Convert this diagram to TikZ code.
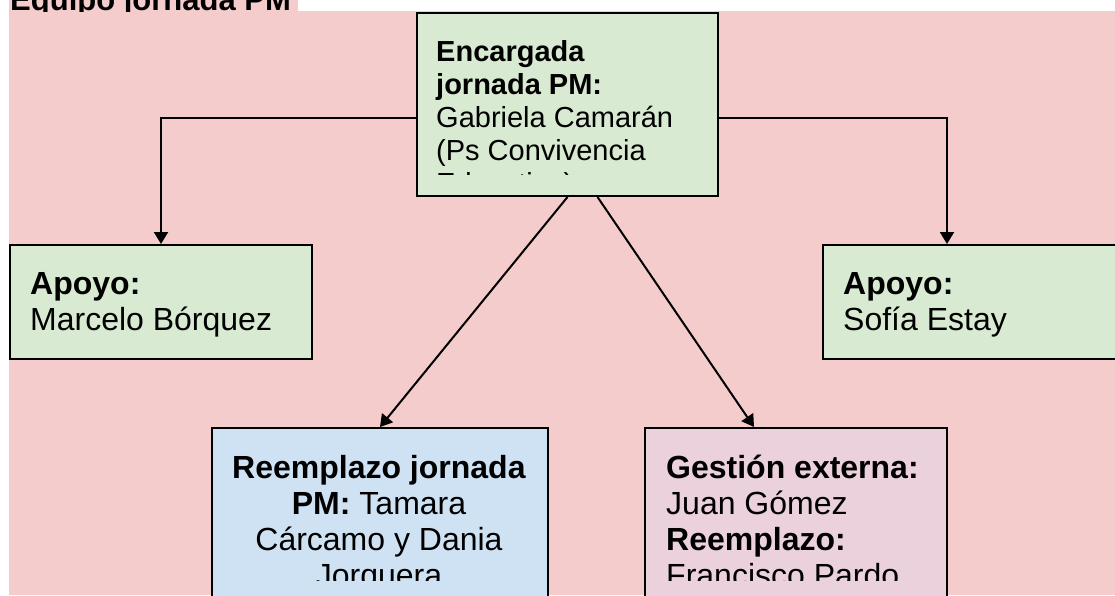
\documentclass[tikz,border=0pt]{standalone}
\usepackage{fontspec}
\setmainfont{Liberation Sans}
\usetikzlibrary{arrows.meta}

\definecolor{bgpink}{HTML}{F4CCCC}
\definecolor{boxgreen}{HTML}{D9EAD3}
\definecolor{boxblue}{HTML}{CFE2F3}
\definecolor{boxmauve}{HTML}{EAD1DC}

\begin{document}
\begin{tikzpicture}[x=1pt, y=-1pt, >={Triangle[length=12pt,width=14pt]},
    box/.style={draw=black, line width=2pt, anchor=north west, inner sep=0pt},
    txt/.style={anchor=base west, inner sep=0pt, align=left,
      font=\fontsize{32}{36}\selectfont},
    link/.style={draw=black, line width=2pt}]
    \useasboundingbox (0,0) rectangle (1115,595);
    \clip (0,0) rectangle (1115,595);

    % background and title strip
    \fill[bgpink] (9,11) rectangle (1115,595);
    \fill[bgpink] (9,0) rectangle (298,11);
    \begin{scope}
      \clip (9,0) rectangle (298,11);
      \node[txt, font=\bfseries\fontsize{31}{36}\selectfont] (title) at (10,10) {Equipo jornada PM};
    \end{scope}

    % boxes
    \node[box, fill=boxgreen, minimum width=301pt, minimum height=183pt] (lead) at (416,12) {};
    \node[box, fill=boxgreen, minimum width=302pt, minimum height=114pt] (apoyoA) at (9,244) {};
    \node[box, fill=boxgreen, minimum width=302pt, minimum height=114pt] (apoyoB) at (822,244) {};
    \node[box, fill=boxblue, minimum width=336pt, minimum height=220pt] (subst) at (211,427) {};
    \node[box, fill=boxmauve, minimum width=302pt, minimum height=220pt] (extern) at (644,427) {};

    % texts (base anchor sits on the last line)
    \begin{scope}
      \clip (418,14) rectangle (715,174);
      \node[txt, font=\fontsize{29}{33}\selectfont] (leadtxt) at (436,193)
        {\textbf{Encargada}\\\textbf{jornada PM:}\\Gabriela Camarán\\(Ps Convivencia\\Educativa)};
    \end{scope}
    \node[txt] (apoyoAtxt) at (30,330) {\textbf{Apoyo:}\\Marcelo Bórquez};
    \node[txt] (apoyoBtxt) at (843,330) {\textbf{Apoyo:}\\Sofía Estay};
    \begin{scope}
      \clip (213,429) rectangle (545,580);
      \node[txt, anchor=base, align=center] (substtxt) at (379,586)
        {\textbf{Reemplazo jornada}\\\textbf{PM:} Tamara\\Cárcamo y Dania\\Jorquera};
    \end{scope}
    \begin{scope}
      \clip (646,429) rectangle (944,580);
      \node[txt] (externtxt) at (666,586)
        {\textbf{Gestión externa:}\\Juan Gómez\\\textbf{Reemplazo:}\\Francisco Pardo};
    \end{scope}

    % connectors
    \coordinate (lvl) at (0,117.5);
    \draw[link, ->] (lead.west |- lvl) -| (apoyoA.north);
    \draw[link, ->] (lead.east |- lvl) -| ([xshift=-27pt]apoyoB.north);
    \draw[link, ->] (lead.south) -- (subst.north);
    \draw[link, ->] ([xshift=30pt]lead.south) -- ([xshift=-42pt]extern.north);
  \end{tikzpicture}
\end{document}
